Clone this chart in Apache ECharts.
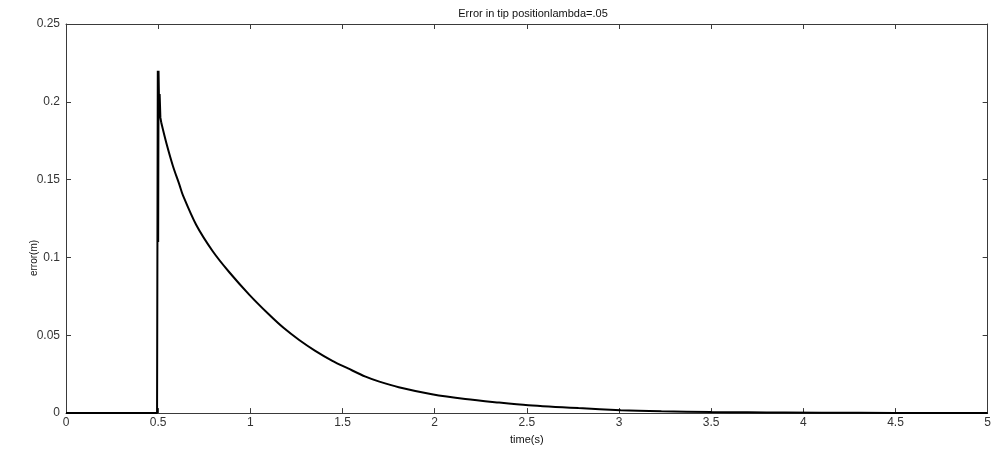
<!DOCTYPE html>
<html>
<head>
<meta charset="utf-8">
<script src="https://cdn.jsdelivr.net/npm/echarts@6/dist/echarts.min.js"></script>
<style>
  html, body { margin: 0; padding: 0; background: #fff; }
  #chart { width: 994px; height: 450px; }
</style>
</head>
<body>
<div id="chart"></div>
<script>
// Rest, then the step response spike at t = 0.5 s
const spikeTime = [0, 0.494, 0.496, 0.498, 0.500, 0.502, 0.504, 0.506, 0.508, 0.512, 0.517];
const spikeError = [0, 0, 0.110, 0.220, 0.110, 0.220, 0.205, 0.192, 0.205, 0.190, 0.1865];

// Decay of the tip position error
const decayTime = [
  0.517, 0.544, 0.580, 0.616, 0.634, 0.706, 0.796, 0.886, 0.995, 1.10,
  1.18, 1.265, 1.35, 1.445, 1.53, 1.625, 1.70, 1.805, 1.985, 2.166,
  2.346, 2.508, 2.78, 3.01, 3.23, 3.50, 3.70, 3.90, 4.30, 4.70, 5.00
];
const decayError = [
  0.1865, 0.1737, 0.1588, 0.1465, 0.1400, 0.1210, 0.1040, 0.0905, 0.0760, 0.0635,
  0.0548, 0.0470, 0.0402, 0.0336, 0.0287, 0.0234, 0.0202, 0.0166, 0.0121, 0.0090,
  0.0068, 0.0051, 0.0032, 0.0019, 0.0012, 0.0007, 0.0005, 0.0004, 0.0002, 0.0001, 0.0001
];

const titleText = 'Error in tip positionlambda=.05';
const xName = 'time(s)';
const yName = 'error(m)';

const frameColor = '#3a3a3a';
const font = 'Liberation Sans, Arial, Helvetica, sans-serif';

const chart = echarts.init(document.getElementById('chart'), null, { renderer: 'canvas' });

const baseX = {
  type: 'value', min: 0, max: 5, interval: 0.5,
  axisLine: { show: true, onZero: false, lineStyle: { color: frameColor, width: 1 } },
  axisTick: { show: true, inside: true, length: 5, lineStyle: { color: frameColor } },
  splitLine: { show: false }
};
const baseY = {
  type: 'value', min: 0, max: 0.25, interval: 0.05,
  axisLine: { show: true, onZero: false, lineStyle: { color: frameColor, width: 1 } },
  axisTick: { show: true, inside: true, length: 5, lineStyle: { color: frameColor } },
  splitLine: { show: false }
};

const pairs = (xs, ys) => xs.map((t, i) => [t, ys[i]]);

chart.setOption({
  animation: false,
  backgroundColor: '#ffffff',
  title: {
    text: titleText,
    left: 528, top: 3, textAlign: 'center',
    textStyle: { fontFamily: font, fontSize: 11, fontWeight: 'normal', color: '#111' }
  },
  grid: { left: 66, right: 4, top: 24, bottom: 35, containLabel: false },
  xAxis: [
    Object.assign({}, baseX, {
      position: 'bottom',
      name: xName, nameLocation: 'middle', nameGap: 17,
      nameTextStyle: { fontFamily: font, fontSize: 11, color: '#111' },
      axisLabel: { show: true, margin: 4, color: '#333', fontFamily: font, fontSize: 12 }
    }),
    Object.assign({}, baseX, { position: 'top', axisLabel: { show: false } })
  ],
  yAxis: [
    Object.assign({}, baseY, {
      position: 'left',
      axisLabel: { show: true, margin: 6, color: '#333', fontFamily: font, fontSize: 12 }
    }),
    Object.assign({}, baseY, { position: 'right', axisLabel: { show: false } })
  ],
  graphic: [{
    type: 'text',
    x: 34, y: 258,
    rotation: Math.PI / 2,
    style: {
      text: yName,
      fontFamily: font, fontSize: 10, fill: '#111',
      align: 'center', verticalAlign: 'middle'
    }
  }],
  series: [
    {
      type: 'line',
      data: pairs(spikeTime, spikeError),
      showSymbol: false,
      smooth: false,
      lineStyle: { color: '#000', width: 2 }
    },
    {
      type: 'line',
      data: pairs(decayTime, decayError),
      showSymbol: false,
      smooth: 0.3,
      lineStyle: { color: '#000', width: 2 }
    }
  ]
});
</script>
</body>
</html>
